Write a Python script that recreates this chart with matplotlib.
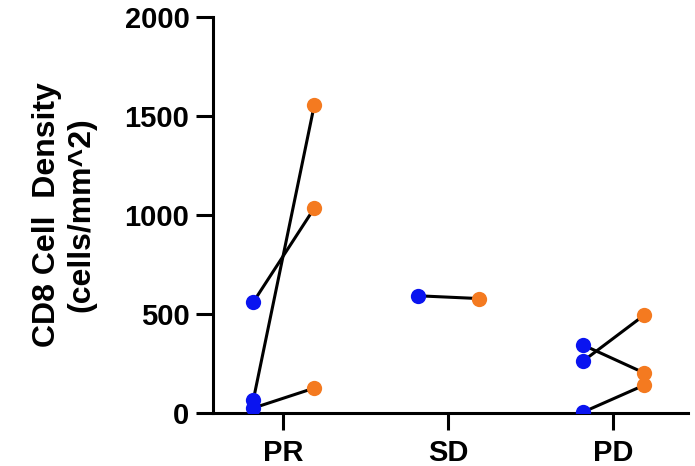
import matplotlib
matplotlib.use("Agg")
import matplotlib.pyplot as plt

plt.rcParams['font.family'] = ['Liberation Sans', 'DejaVu Sans']
plt.rcParams['font.weight'] = 'bold'

categories = ['PR', 'SD', 'PD']
# paired measurements: (group index, before, after)
group_idx = [0, 0, 0, 1, 2, 2, 2]
before = [560, 65, 25, 592, 263, 343, 5]
after = [1035, 1556, 126, 578, 495, 202, 141]

blue = '#0a14f0'
orange = '#f47a20'
off_before = -0.18
off_after = 0.19

fig = plt.figure(figsize=(6.95, 4.66), dpi=100)
ax = fig.add_axes([0.3065, 0.1137, 0.6835, 0.8498])

for g, b, a in zip(group_idx, before, after):
    ax.plot([g + off_before, g + off_after], [b, a], color='black', lw=2.2, zorder=2)
    ax.plot(g + off_before, b, 'o', color=blue, ms=11, mec='none', zorder=3)
    ax.plot(g + off_after, a, 'o', color=orange, ms=11, mec='none', zorder=3)

ax.set_xlim(-0.424, 2.455)
ax.set_ylim(0, 2000)
ax.set_yticks([0, 500, 1000, 1500, 2000])
ax.set_xticks(range(len(categories)))
ax.set_xticklabels(categories)

for s in ['top', 'right']:
    ax.spines[s].set_visible(False)
for s in ['left', 'bottom']:
    ax.spines[s].set_linewidth(2.2)

ax.tick_params(axis='both', length=12, width=2.2, labelsize=21, pad=5)
ax.tick_params(axis='x', pad=7)
ax.set_ylabel('CD8 Cell  Density\n(cells/mm^2)', fontsize=23, fontweight='bold',
              linespacing=1.2, labelpad=20)

fig.savefig('out.png', dpi=100)
